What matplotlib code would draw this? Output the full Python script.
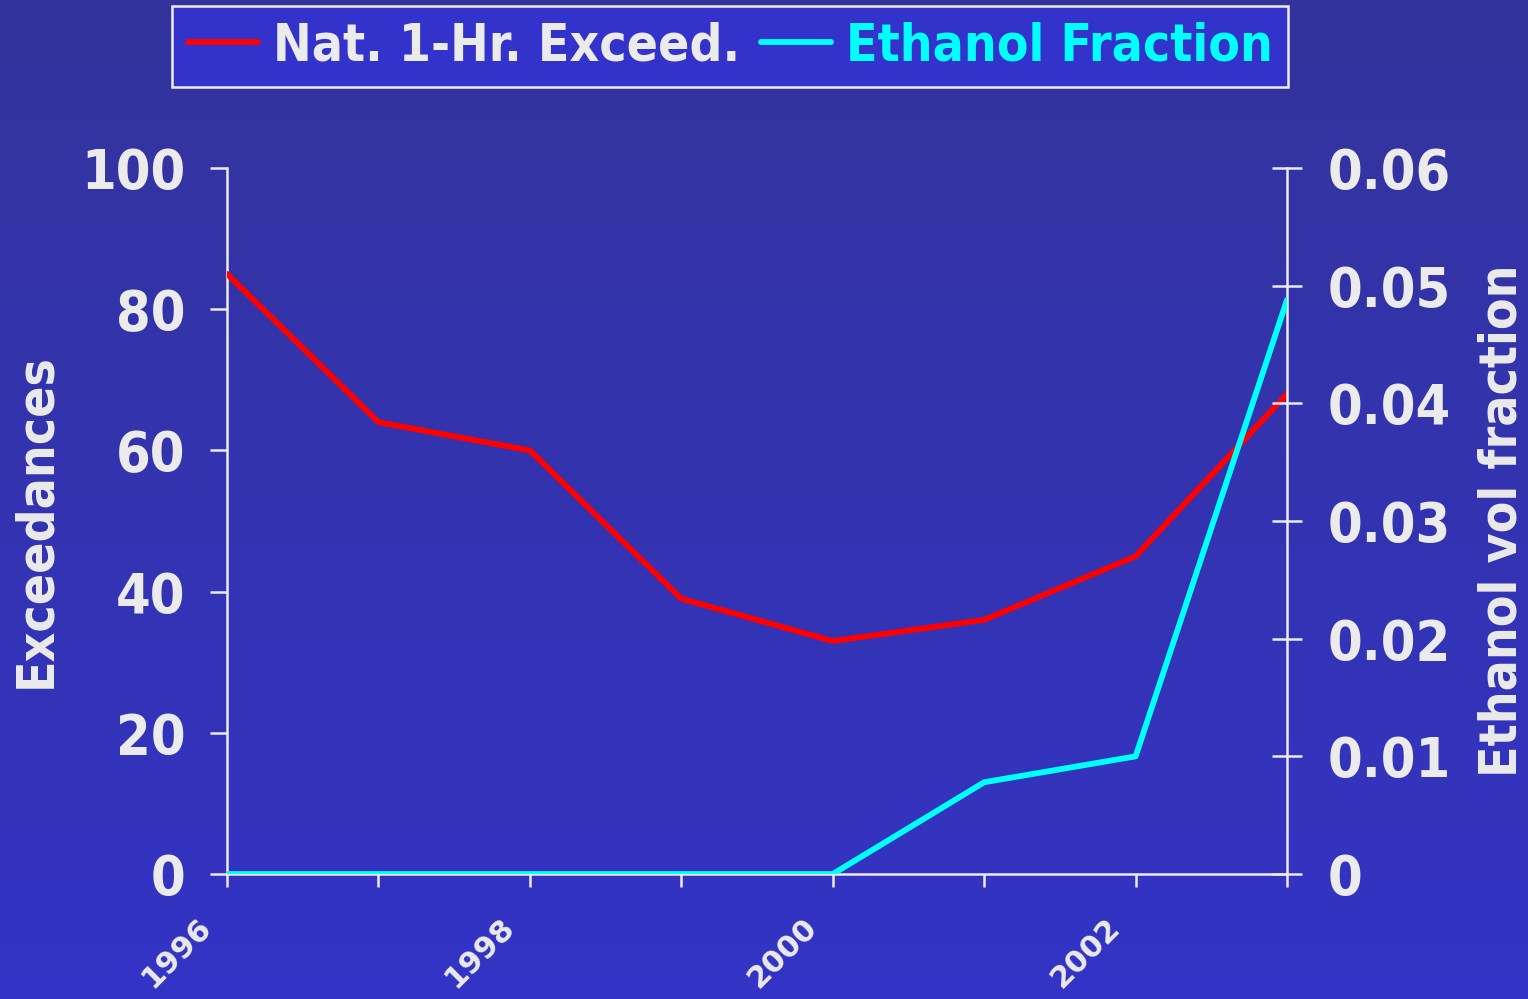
import numpy as np
import matplotlib
matplotlib.use("Agg")
import matplotlib.pyplot as plt
import matplotlib.transforms as mtransforms
from matplotlib.colors import LinearSegmentedColormap

years = [1996, 1997, 1998, 1999, 2000, 2001, 2002, 2003]
exceedances = [85, 64, 60, 39, 33, 36, 45, 68]
ethanol = [0, 0, 0, 0, 0, 0.0078, 0.0100, 0.0488]
xtick_labels = ["1996", "", "1998", "", "2000", "", "2002", ""]
left_ticks = [0, 20, 40, 60, 80, 100]
right_ticks = [0, 0.01, 0.02, 0.03, 0.04, 0.05, 0.06]
right_tick_labels = ["0", "0.01", "0.02", "0.03", "0.04", "0.05", "0.06"]

TXT = "#EBEBEB"
plt.rcParams['font.family'] = ['DejaVu Sans']
plt.rcParams['font.weight'] = 'bold'
plt.rcParams['font.stretch'] = 'condensed'

fig = plt.figure(figsize=(15.28, 9.99), dpi=100)

# gradient background
bg = fig.add_axes([0, 0, 1, 1], zorder=-10)
cmap = LinearSegmentedColormap.from_list("bg", ["#33339C", "#3333C6"])
grad = np.linspace(0, 1, 256).reshape(-1, 1)
bg.imshow(grad, aspect='auto', cmap=cmap, extent=[0, 1, 1, 0])
bg.axis('off')

ax = fig.add_axes([0.1486, 0.1251, 0.8423 - 0.1486, 0.8318 - 0.1251])
ax.patch.set_alpha(0)
ax2 = ax.twinx()
ax2.patch.set_alpha(0)

l1, = ax.plot(years, exceedances, color="#FF0000", lw=4.2, solid_capstyle='round',
              solid_joinstyle='round', label="Nat. 1-Hr. Exceed.", zorder=3)
l2, = ax2.plot(years, ethanol, color="#00FFFF", lw=4.2, solid_capstyle='round',
               solid_joinstyle='round', label="Ethanol Fraction", zorder=3)

ax.set_xlim(1996, 2003)
ax.set_ylim(0, 100)
ax2.set_ylim(0, 0.06)

for a in (ax, ax2):
    for s in a.spines.values():
        s.set_visible(False)
ax.spines['left'].set_visible(True)
ax.spines['bottom'].set_visible(True)
ax2.spines['right'].set_visible(True)
for s in (ax.spines['left'], ax.spines['bottom'], ax2.spines['right']):
    s.set_color(TXT)
    s.set_linewidth(1.8)

ax.tick_params(axis='x', direction='out', length=9, width=1.8, color=TXT, pad=19)
ax.tick_params(axis='y', direction='out', length=12, width=1.8, color=TXT, pad=18)
ax2.tick_params(axis='y', direction='inout', length=22, width=1.8, color=TXT, pad=18)

ax.set_xticks(years)
ax.set_xticklabels(xtick_labels, rotation=45, ha='right', va='top',
                   fontsize=22, color=TXT, fontweight='bold', fontstretch='normal')
offset = mtransforms.ScaledTranslation(-10 / 100, 0, fig.dpi_scale_trans)
for lab in ax.get_xticklabels():
    lab.set_transform(lab.get_transform() + offset)

ax.set_yticks(left_ticks)
ax.set_yticklabels([str(v) for v in left_ticks], fontsize=40, color=TXT, fontweight='bold')
ax2.set_yticks(right_ticks)
ax2.set_yticklabels(right_tick_labels, fontsize=40, color=TXT, fontweight='bold')

ax.set_ylabel("Exceedances", fontsize=37, color=TXT, fontweight='bold', labelpad=14)
ax2.set_ylabel("Ethanol vol fraction", fontsize=37, color=TXT, fontweight='bold', labelpad=19)

leg = fig.legend(handles=[l1, l2], loc='center', bbox_to_anchor=(0.478, 0.9535),
                 ncol=2, frameon=True, fancybox=False,
                 prop={'family': 'DejaVu Sans', 'weight': 'bold', 'size': 37, 'stretch': 'condensed'},
                 handlelength=1.36, handletextpad=0.3, columnspacing=0.4,
                 borderpad=0.3, borderaxespad=0)
leg.get_frame().set_facecolor("#3333CC")
leg.get_frame().set_edgecolor("#EEEEEE")
leg.get_frame().set_linewidth(1.8)
leg.get_frame().set_alpha(1)
leg.get_texts()[0].set_color(TXT)
leg.get_texts()[1].set_color("#00FFFF")

fig.savefig("out.png", dpi=100)
